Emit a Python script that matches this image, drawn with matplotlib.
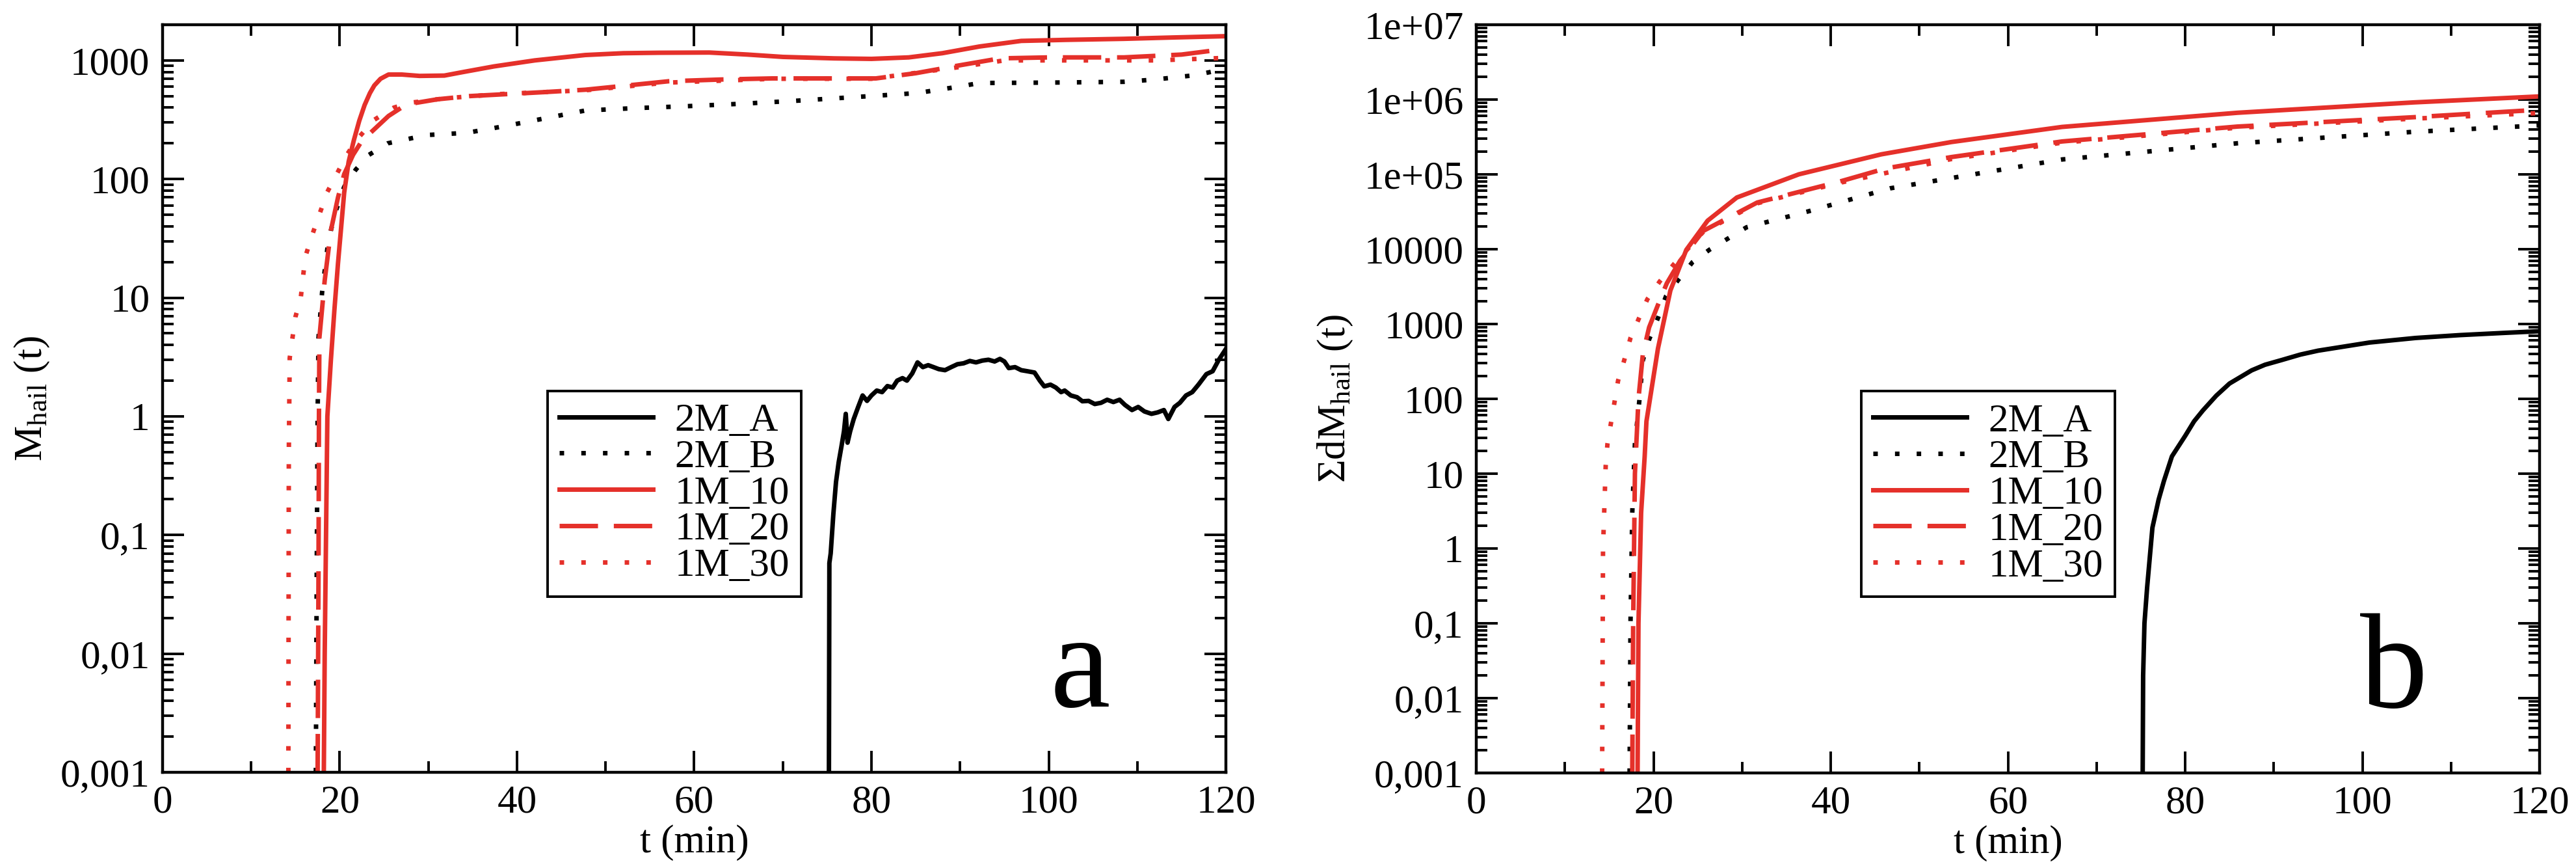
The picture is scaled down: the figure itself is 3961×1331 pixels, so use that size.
import matplotlib
matplotlib.use('Agg')
import matplotlib.pyplot as plt
from matplotlib.ticker import FixedLocator, FixedFormatter, LogLocator, MultipleLocator, NullFormatter

plt.rcParams['font.family'] = ['Liberation Serif', 'DejaVu Serif']
plt.rcParams['mathtext.fontset'] = 'custom'
plt.rcParams['mathtext.rm'] = 'Liberation Serif'
plt.rcParams['mathtext.it'] = 'Liberation Serif:italic'

ROJO = '#e5302a'

# ---------------------------------------------------------------- panel a
# M_hail(t), masa de granizo
t_a_2MA = [75.2, 75.25, 75.4, 75.7, 76.0, 76.3, 76.6, 76.9, 77.1, 77.3, 77.6, 78.0, 78.5, 79.0, 79.5,
           80.0, 80.6, 81.2, 81.8, 82.4, 82.9, 83.5, 84.0, 84.6, 85.2, 85.8, 86.4, 87.0, 87.6, 88.3,
           89.0, 89.7, 90.4, 91.1, 91.8, 92.5, 93.2, 93.9, 94.5, 95.0, 95.5, 96.2, 96.9, 97.6, 98.4,
           99.0, 99.5, 100.2, 100.8, 101.4, 101.8, 102.5, 103.2, 103.8, 104.5, 105.2, 105.9, 106.6, 107.3, 108.0,
           108.6, 109.4, 110.1, 110.8, 111.6, 112.3, 113.0, 113.5, 114.2, 114.8, 115.5, 116.2, 116.9, 117.8, 118.5,
           119.2, 120.0]
m_a_2MA = [0.001, 0.058, 0.07, 0.15, 0.28, 0.41, 0.55, 0.75, 1.05, 0.6, 0.75, 0.95, 1.2, 1.5, 1.35,
           1.5, 1.65, 1.6, 1.8, 1.75, 2.0, 2.1, 2.0, 2.3, 2.85, 2.6, 2.7, 2.6, 2.5, 2.45,
           2.6, 2.75, 2.8, 2.93, 2.85, 2.95, 3.0, 2.9, 3.05, 2.9, 2.55, 2.6, 2.45, 2.4, 2.34,
           2.0, 1.79, 1.85, 1.75, 1.6, 1.65, 1.5, 1.45, 1.34, 1.35, 1.27, 1.3, 1.38, 1.32, 1.38,
           1.25, 1.13, 1.2, 1.1, 1.05, 1.08, 1.13, 0.95, 1.2, 1.3, 1.5, 1.6, 1.85, 2.27, 2.4,
           3.0, 3.7]

t_a_2MB = [17.3, 17.4, 17.5, 17.6, 18.0, 18.6, 19.0, 19.6, 20.5, 21.8, 23.3, 25.4, 29.8, 34.3, 38.7,
           45.8, 47.7, 53.0, 59.4, 65.0, 71.1, 78.0, 85.1, 89.8, 92.2, 100.0, 108.5, 112.0, 116.5, 120.0]
m_a_2MB = [0.001, 0.05, 1.0, 4.6, 11, 26, 37, 55, 86, 120, 160, 200, 235, 245, 280,
           355, 378, 395, 412, 430, 455, 490, 530, 600, 645, 650, 660, 690, 750, 850]

t_a_1M10 = [18.2, 18.3, 18.45, 18.6, 19.0, 19.4, 19.8, 20.5, 21.0, 21.6, 22.2, 22.8, 23.4, 23.9, 24.6,
            25.5, 27.0, 29.0, 31.8, 34.0, 37.4, 42.0, 47.7, 52.0, 56.0, 61.7, 66.0, 70.0, 75.8, 80.0,
            84.2, 88.0, 92.2, 96.9, 102.0, 108.5, 114.0, 120.0]
m_a_1M10 = [0.001, 0.01, 0.1, 1.0, 3.0, 8, 19.5, 77, 140, 214, 310, 420, 530, 615, 700,
            760, 760, 740, 745, 800, 890, 1000, 1110, 1150, 1160, 1165, 1120, 1070, 1040, 1030,
            1060, 1150, 1310, 1460, 1490, 1520, 1560, 1600]

t_a_1M20 = [17.5, 17.6, 17.65, 17.7, 18.3, 19.0, 19.8, 20.5, 21.5, 22.5, 23.9, 25.5, 27.5, 31.0, 34.6,
            43.0, 47.7, 52.0, 57.1, 63.0, 68.8, 75.0, 80.5, 85.0, 89.8, 94.5, 100.0, 108.5, 115.0, 120.0]
m_a_1M20 = [0.001, 0.05, 1.0, 4.6, 14, 37, 70, 110, 160, 210, 263, 340, 425, 470, 500,
            540, 566, 610, 667, 690, 705, 705, 705, 780, 905, 1040, 1060, 1060, 1120, 1250]

t_a_1M30 = [14.2, 14.25, 14.35, 14.7, 15.0, 15.6, 16.1, 16.9, 17.6, 18.6, 19.6, 20.8, 21.9, 23.9, 26.1,
            28.0, 32.0, 38.0, 47.7, 57.0, 69.0, 80.0, 90.0, 95.0, 105.0, 112.0, 120.0]
m_a_1M30 = [0.001, 0.5, 3.1, 4.8, 6.9, 10, 22, 34, 48, 78, 108, 160, 214, 316, 400,
            440, 480, 520, 560, 650, 700, 700, 880, 1000, 1000, 1000, 1050]

# ---------------------------------------------------------------- panel b
# suma acumulada de dM_hail
t_b_2MA = [75.2, 75.25, 75.4, 75.7, 76.3, 77.0, 77.6, 78.5, 80.0, 81.0, 82.0, 83.5, 85.0, 87.5, 89.0,
           90.9, 93.0, 95.0, 100.8, 106.0, 111.0, 116.0, 120.0]
m_b_2MA = [0.001, 0.02, 0.1, 0.3, 1.9, 4.5, 8, 17, 32, 50, 70, 110, 160, 240, 285,
           330, 390, 440, 565, 650, 710, 760, 800]

t_b_2MB = [17.3, 17.4, 17.6, 17.9, 18.4, 18.8, 19.5, 20.5, 21.4, 22.8, 24.4, 26.3, 30.5, 37.3, 46.7,
           66.1, 85.9, 105.8, 120.0]
m_b_2MB = [0.001, 0.1, 3, 25, 95, 330, 620, 1200, 2340, 3900, 6700, 9800, 19600, 31600, 65000,
           158000, 260000, 370000, 450000]

t_b_1M10 = [18.2, 18.3, 18.6, 19.0, 19.2, 20.5, 21.9, 23.7, 26.1, 29.4, 36.4, 45.7, 53.6, 66.1, 85.9,
            105.8, 120.0]
m_b_1M10 = [0.001, 0.1, 3, 17, 50, 470, 2800, 9800, 24000, 49000, 100000, 185000, 270000, 430000, 665000,
            915000, 1.1e6]

t_b_1M20 = [17.6, 17.7, 17.9, 18.3, 18.8, 19.5, 20.5, 21.5, 23.0, 25.6, 31.7, 41.0, 46.2, 53.6, 66.1,
            85.9, 105.8, 120.0]
m_b_1M20 = [0.001, 0.1, 10, 100, 400, 900, 1800, 3500, 7000, 17500, 42000, 80000, 120000, 170000, 275000,
            435000, 580000, 730000]

t_b_1M30 = [14.2, 14.3, 14.6, 14.8, 15.6, 16.0, 16.7, 17.4, 18.3, 19.3, 20.7, 22.3, 25.6, 31.7, 41.0,
            53.6, 66.1, 85.9, 105.8, 120.0]
m_b_1M30 = [0.001, 1, 12.6, 25, 91, 175, 330, 650, 1150, 2140, 3700, 6300, 17000, 41000, 77000,
            160000, 265000, 420000, 555000, 660000]

etiquetas = ['2M_A', '2M_B', '1M_10', '1M_20', '1M_30']

yt_a = [0.001, 0.01, 0.1, 1, 10, 100, 1000]
yl_a = ['0,001', '0,01', '0,1', '1', '10', '100', '1000']
yt_b = [0.001, 0.01, 0.1, 1, 10, 100, 1000, 1e4, 1e5, 1e6, 1e7]
yl_b = ['0,001', '0,01', '0,1', '1', '10', '100', '1000', '10000', '1e+05', '1e+06', '1e+07']

############################################################################################################

FS = 44
LW = 5
estilos = [
    dict(color='black', linestyle='-'),
    dict(color='black', linestyle=(0, (1.0, 3.8))),
    dict(color=ROJO, linestyle='-'),
    dict(color=ROJO, linestyle=(0, (8.5, 3.5))),
    dict(color=ROJO, linestyle=(0, (1.0, 3.8))),
]


def dibujar_panel(ax, series, ymax, yt, yl, ylabel, letra):
    for (t, m), est, lab in zip(series, estilos, etiquetas):
        ax.plot(t, m, lw=LW, label=lab, **est)

    ax.set_yscale('log')
    ax.set_xlim(0, 120)
    ax.set_ylim(0.001, ymax)

    ax.xaxis.set_major_locator(MultipleLocator(20))
    ax.xaxis.set_minor_locator(MultipleLocator(10))
    ax.yaxis.set_major_locator(FixedLocator(yt))
    ax.yaxis.set_major_formatter(FixedFormatter(yl))
    ax.yaxis.set_minor_locator(LogLocator(base=10, subs=range(2, 10), numticks=40))
    ax.yaxis.set_minor_formatter(NullFormatter())

    ax.tick_params(which='both', direction='in', top=True, right=True, labelsize=FS, width=2.8)
    ax.tick_params(which='major', length=24, pad=14)
    ax.tick_params(which='minor', length=12)
    for s in ax.spines.values():
        s.set_linewidth(3.2)

    ax.set_xlabel('t (min)', fontsize=FS, labelpad=4)
    ax.set_ylabel(ylabel, fontsize=FS, labelpad=10)

    leg = ax.legend(loc='upper left', bbox_to_anchor=(0.362, 0.51), fontsize=FS, frameon=True,
                    fancybox=False, edgecolor='black', framealpha=1, borderaxespad=0,
                    handlelength=2.35, handletextpad=0.55, borderpad=0.3, labelspacing=0.0)
    leg.get_frame().set_linewidth(2.8)

    ax.text(0.863, 0.088, letra, transform=ax.transAxes, fontsize=150, ha='center', va='baseline')


fig = plt.figure(figsize=(39.61, 13.31), dpi=100)
ax_a = fig.add_axes([0.0631, 0.1082, 0.4128, 0.8633])
ax_b = fig.add_axes([0.5731, 0.1075, 0.4128, 0.8640])

dibujar_panel(ax_a,
              [(t_a_2MA, m_a_2MA), (t_a_2MB, m_a_2MB), (t_a_1M10, m_a_1M10),
               (t_a_1M20, m_a_1M20), (t_a_1M30, m_a_1M30)],
              2000, yt_a, yl_a, r'M$_{\mathrm{hail}}$ (t)', 'a')
dibujar_panel(ax_b,
              [(t_b_2MA, m_b_2MA), (t_b_2MB, m_b_2MB), (t_b_1M10, m_b_1M10),
               (t_b_1M20, m_b_1M20), (t_b_1M30, m_b_1M30)],
              1e7, yt_b, yl_b, r'ΣdM$_{\mathrm{hail}}$ (t)', 'b')

fig.savefig('out.png', dpi=100, facecolor='white')
